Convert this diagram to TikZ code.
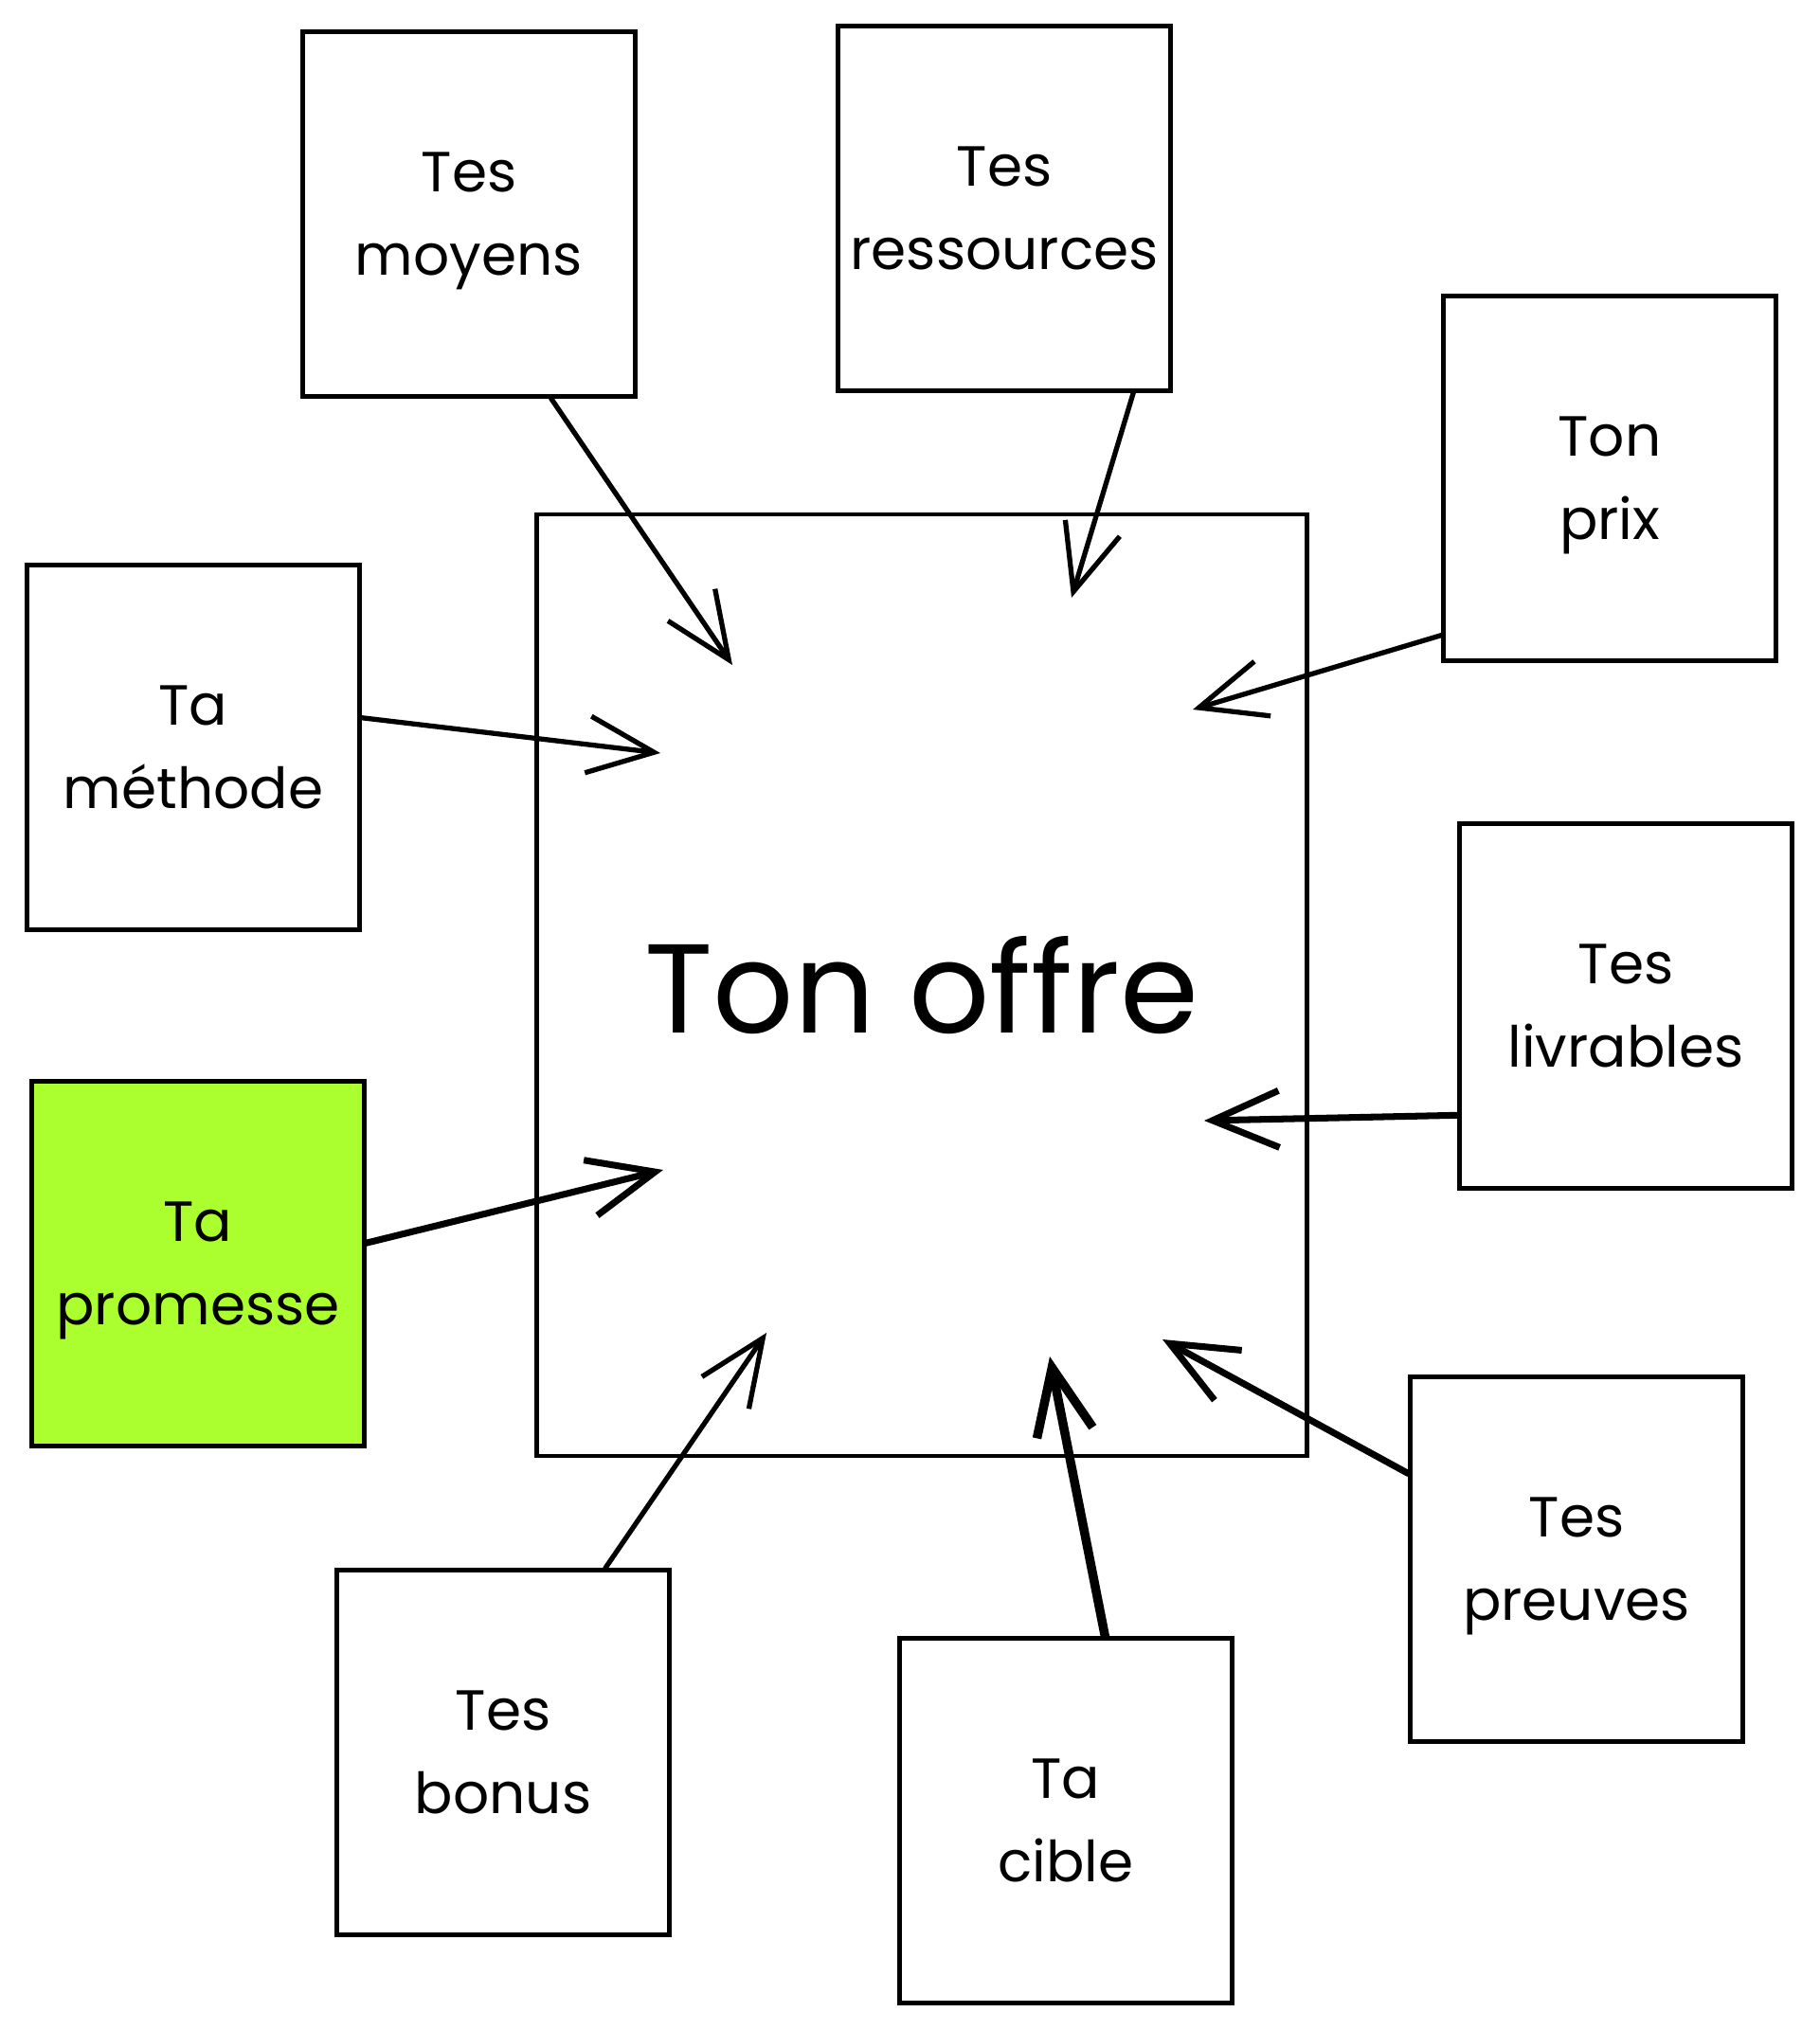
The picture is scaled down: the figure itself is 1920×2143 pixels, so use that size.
\documentclass[tikz,border=0pt]{standalone}
\usepackage{fontspec}
\setmainfont{Poppins}
\usetikzlibrary{arrows.meta}
\definecolor{promessegreen}{RGB}{171,255,46}

\begin{document}
\begin{tikzpicture}[
    x=0.01cm, y=-0.01cm,
    box/.style={draw, line width=1.4pt, align=center, minimum width=3.5cm, minimum height=3.84cm, inner sep=0pt, text depth=-6pt, font=\fontsize{17}{25}\selectfont},
    offer/.style={draw, line width=1.3pt, minimum width=8.12cm, minimum height=9.93cm, inner sep=0pt, font=\fontsize{38}{44}\selectfont},
    arrow/.style={-{Straight Barb[length=7mm, width=6mm]}, line width=1.5pt, line cap=round},
    heavy/.style={arrow, line width=2pt},
    heavier/.style={arrow, line width=2.7pt}
  ]
    \useasboundingbox (0,0) rectangle (1920,2143);
    \node[offer] (offre) at (973,1040) {Ton offre};
    \node[box] (moyens) at (495,226) {Tes\\moyens};
    \node[box] (ressources) at (1060,220) {Tes\\ressources};
    \node[box] (prix) at (1699,505) {Ton\\prix};
    \node[box] (methode) at (204,789) {Ta\\méthode};
    \node[box, fill=promessegreen] (promesse) at (209,1334) {Ta\\promesse};
    \node[box] (livrables) at (1716,1062) {Tes\\livrables};
    \node[box] (preuves) at (1664,1646) {Tes\\preuves};
    \node[box] (bonus) at (531,1850) {Tes\\bonus};
    \node[box] (cible) at (1125,1922) {Ta\\cible};
    % arrow tips inside the offer
    \coordinate (in-moyens) at (773,702);
    \coordinate (in-ressources) at (1131,631);
    \coordinate (in-prix) at (1259,749);
    \coordinate (in-methode) at (697,795);
    \coordinate (in-promesse) at (700,1235);
    \coordinate (in-livrables) at (1271,1183);
    \coordinate (in-preuves) at (1227,1414);
    \coordinate (in-bonus) at (809,1407);
    \coordinate (in-cible) at (1108,1432);
    \draw[arrow] (moyens.-66) -- (in-moyens);
    \draw[arrow] (ressources.-55) -- (in-ressources);
    \draw[arrow] (prix.-137) -- (in-prix);
    \draw[arrow] (methode.10) -- (in-methode);
    \draw[heavy] (promesse.7) -- (in-promesse);
    \draw[heavy] (livrables.-147) -- (in-livrables);
    \draw[heavy] (preuves.153) -- (in-preuves);
    \draw[arrow] (bonus.61) -- (in-bonus);
    \draw[heavier] (cible.78) -- (in-cible);
  \end{tikzpicture}
\end{document}
